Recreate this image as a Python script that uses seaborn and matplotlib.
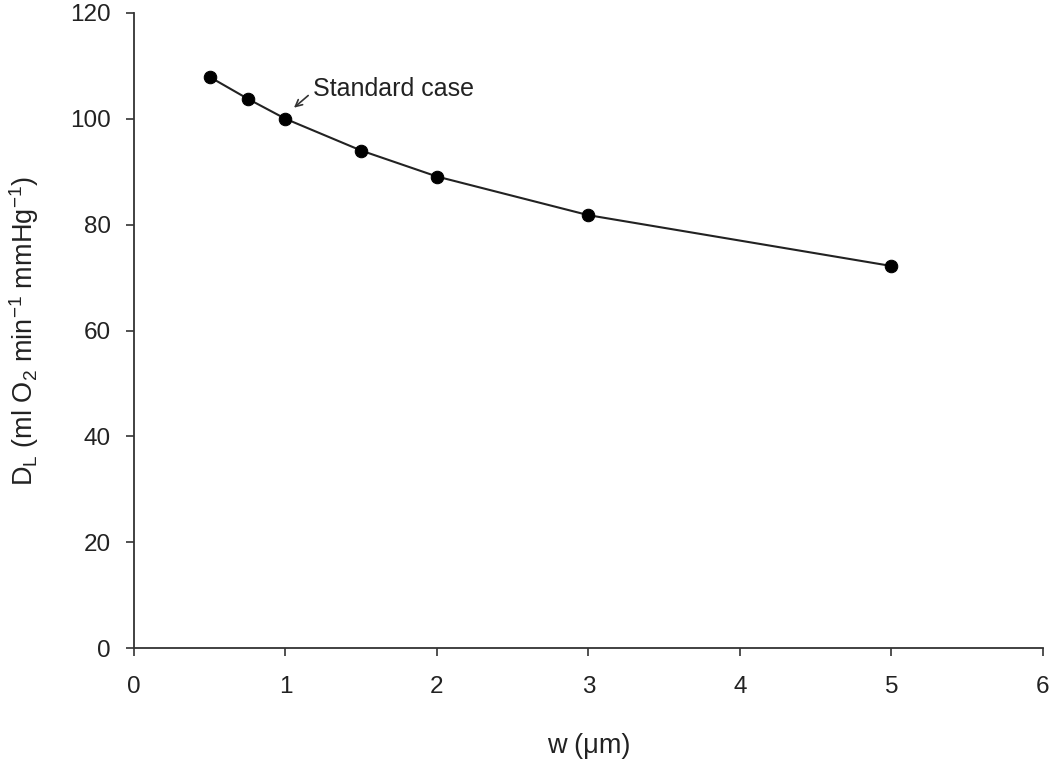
import matplotlib
matplotlib.use("Agg")
import matplotlib.pyplot as plt
import seaborn as sns
import pandas as pd

# --- dados ---
w_um = [0.5, 0.75, 1.0, 1.5, 2.0, 3.0, 5.0]
dl_vals = [107.9, 103.8, 100.0, 94.0, 89.1, 81.8, 72.2]
x_ticks = [0, 1, 2, 3, 4, 5, 6]
y_ticks = [0, 20, 40, 60, 80, 100, 120]

df = pd.DataFrame({"w": w_um, "DL": dl_vals})

sns.set_theme(style="ticks")
plt.rcParams["font.family"] = ["Liberation Sans", "DejaVu Sans"]
plt.rcParams["mathtext.fontset"] = "custom"
plt.rcParams["mathtext.rm"] = "Liberation Sans"
plt.rcParams["mathtext.it"] = "Liberation Sans"
plt.rcParams["mathtext.default"] = "regular"

fig = plt.figure(figsize=(10.5, 7.6), dpi=100)
ax = fig.add_axes([0.1276, 0.147, 0.8657, 0.836])

sns.lineplot(data=df, x="w", y="DL", ax=ax, color="#222222", linewidth=1.5,
             marker="o", markersize=9, markerfacecolor="black",
             markeredgecolor="black")

ax.set_xlim(0, 6)
ax.set_ylim(0, 120)
ax.set_xticks(x_ticks)
ax.set_yticks(y_ticks)
ax.tick_params(axis="both", labelsize=17.5, length=6, width=1.2, direction="out",
               color="#333333", labelcolor="#222222")
ax.tick_params(axis="x", pad=14)
ax.tick_params(axis="y", pad=10.5)
for s in ["left", "bottom"]:
    ax.spines[s].set_linewidth(1.3)
    ax.spines[s].set_color("#333333")
sns.despine(ax=ax)

ax.set_xlabel("w (\u03bcm)", fontsize=19.5, labelpad=25, color="#222222")
ax.set_ylabel(r"D$_\mathrm{L}$ (ml O$_2$ min$^{-1}$ mmHg$^{-1}$)", fontsize=19.5,
              labelpad=21, color="#222222")

# seta e texto do caso padrão
ax.annotate("", xy=(1.056, 102.1), xytext=(1.15, 104.4),
            arrowprops=dict(arrowstyle="->", color="#333333", lw=1.2,
                            shrinkA=0, shrinkB=0))
ax.text(1.18, 104.4, "Standard case", fontsize=18, ha="left", va="baseline",
        color="#222222")

fig.savefig("out.png", dpi=100)
